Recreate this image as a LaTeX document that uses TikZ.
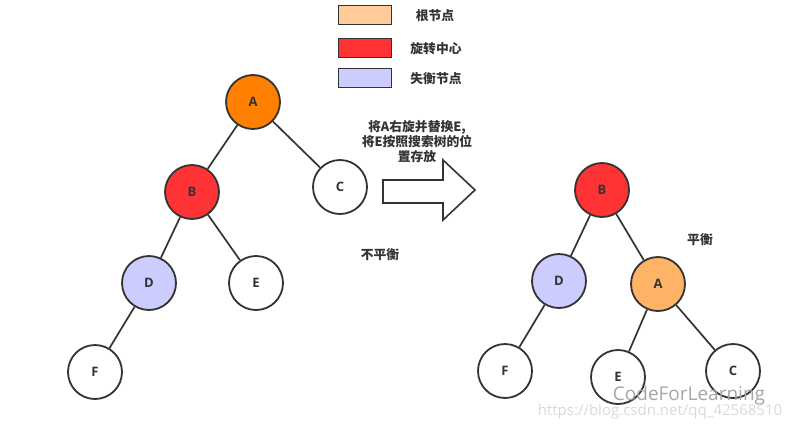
\documentclass[tikz,border=0pt]{standalone}
\usepackage{fontspec}
\setmainfont{Open Sans}
\newfontfamily\cjk{Noto Sans CJK SC}
\usetikzlibrary{positioning}
\definecolor{rootorange}{HTML}{FF8000}
\definecolor{newroot}{HTML}{FFB366}
\definecolor{legendorange}{HTML}{FFCC99}
\definecolor{pivotred}{HTML}{FF3333}
\definecolor{unbal}{HTML}{CCCCFF}
\definecolor{ink}{HTML}{333333}

\begin{document}
\begin{tikzpicture}[x=1pt,y=-1pt,line width=1.8pt,
  tnode/.style={circle,draw=ink,minimum size=54pt,inner sep=0pt,font=\bfseries\fontsize{13}{13}\selectfont,text=ink},
  edge/.style={draw=ink,line width=1.7pt},
  keybox/.style={draw=ink,minimum width=53pt,minimum height=19pt,inner sep=0pt},
  label/.style={font=\cjk\bfseries\fontsize{12.8}{15}\selectfont,text=ink,align=center,inner sep=0pt}]
\useasboundingbox (0,0) rectangle (791,431);
% legend
\node[keybox,fill=legendorange] (k1) at (365,15) {};
\node[keybox,fill=pivotred] (k2) at (365,48) {};
\node[keybox,fill=unbal] (k3) at (365,78) {};
\node[label] (t1) at (435,16) {根节点};
\node[label] (t2) at (436,49) {旋转中心};
\node[label] (t3) at (436,79) {失衡节点};
% unbalanced tree
\node[tnode,fill=rootorange] (a1) at (253,102) {A};
\node[tnode,fill=pivotred] (b1) at (192,192) {B};
\node[tnode,fill=white] (c1) at (340,187) {C};
\node[tnode,fill=unbal] (d1) at (149,283) {D};
\node[tnode,fill=white] (e1) at (256,283) {E};
\node[tnode,fill=white] (f1) at (95,372) {F};
\draw[edge] (a1)--(b1); \draw[edge] (a1)--(c1); \draw[edge] (b1)--(d1); \draw[edge] (b1)--(e1); \draw[edge] (d1)--(f1);
\node[label] (unbaltext) at (380,255) {不平衡};
% rotation step
\node[label] (steptext) at (417,142) {将A右旋并替换E,\\将E按照搜索树的位\\置存放};
\draw[draw=ink,line width=1.6pt,fill=white,line join=miter] (383,180) -- (443,180) -- (443,160) -- (475,190) -- (443,220) -- (443,203) -- (383,203) -- cycle;
% balanced tree
\node[tnode,fill=pivotred] (b2) at (602,190) {B};
\node[tnode,fill=unbal] (d2) at (559,281) {D};
\node[tnode,fill=newroot] (a2) at (658,284) {A};
\node[tnode,fill=white] (f2) at (505,371) {F};
\node[tnode,fill=white] (e2) at (618,377) {E};
\node[tnode,fill=white] (c2) at (733,371) {C};
\draw[edge] (b2)--(d2); \draw[edge] (b2)--(a2); \draw[edge] (d2)--(f2); \draw[edge] (a2)--(e2); \draw[edge] (a2)--(c2);
\node[label] (baltext) at (700,240) {平衡};
% watermark
\node[font=\fontsize{19}{19}\selectfont,text=black!35,inner sep=0pt] (wm) at (689,396) {CodeForLearning};
\node[font=\fontsize{15}{15}\selectfont,text=black!15,inner sep=0pt] (url) at (660,412) {https://blog.csdn.net/qq\_42568510};
\end{tikzpicture}
\end{document}
